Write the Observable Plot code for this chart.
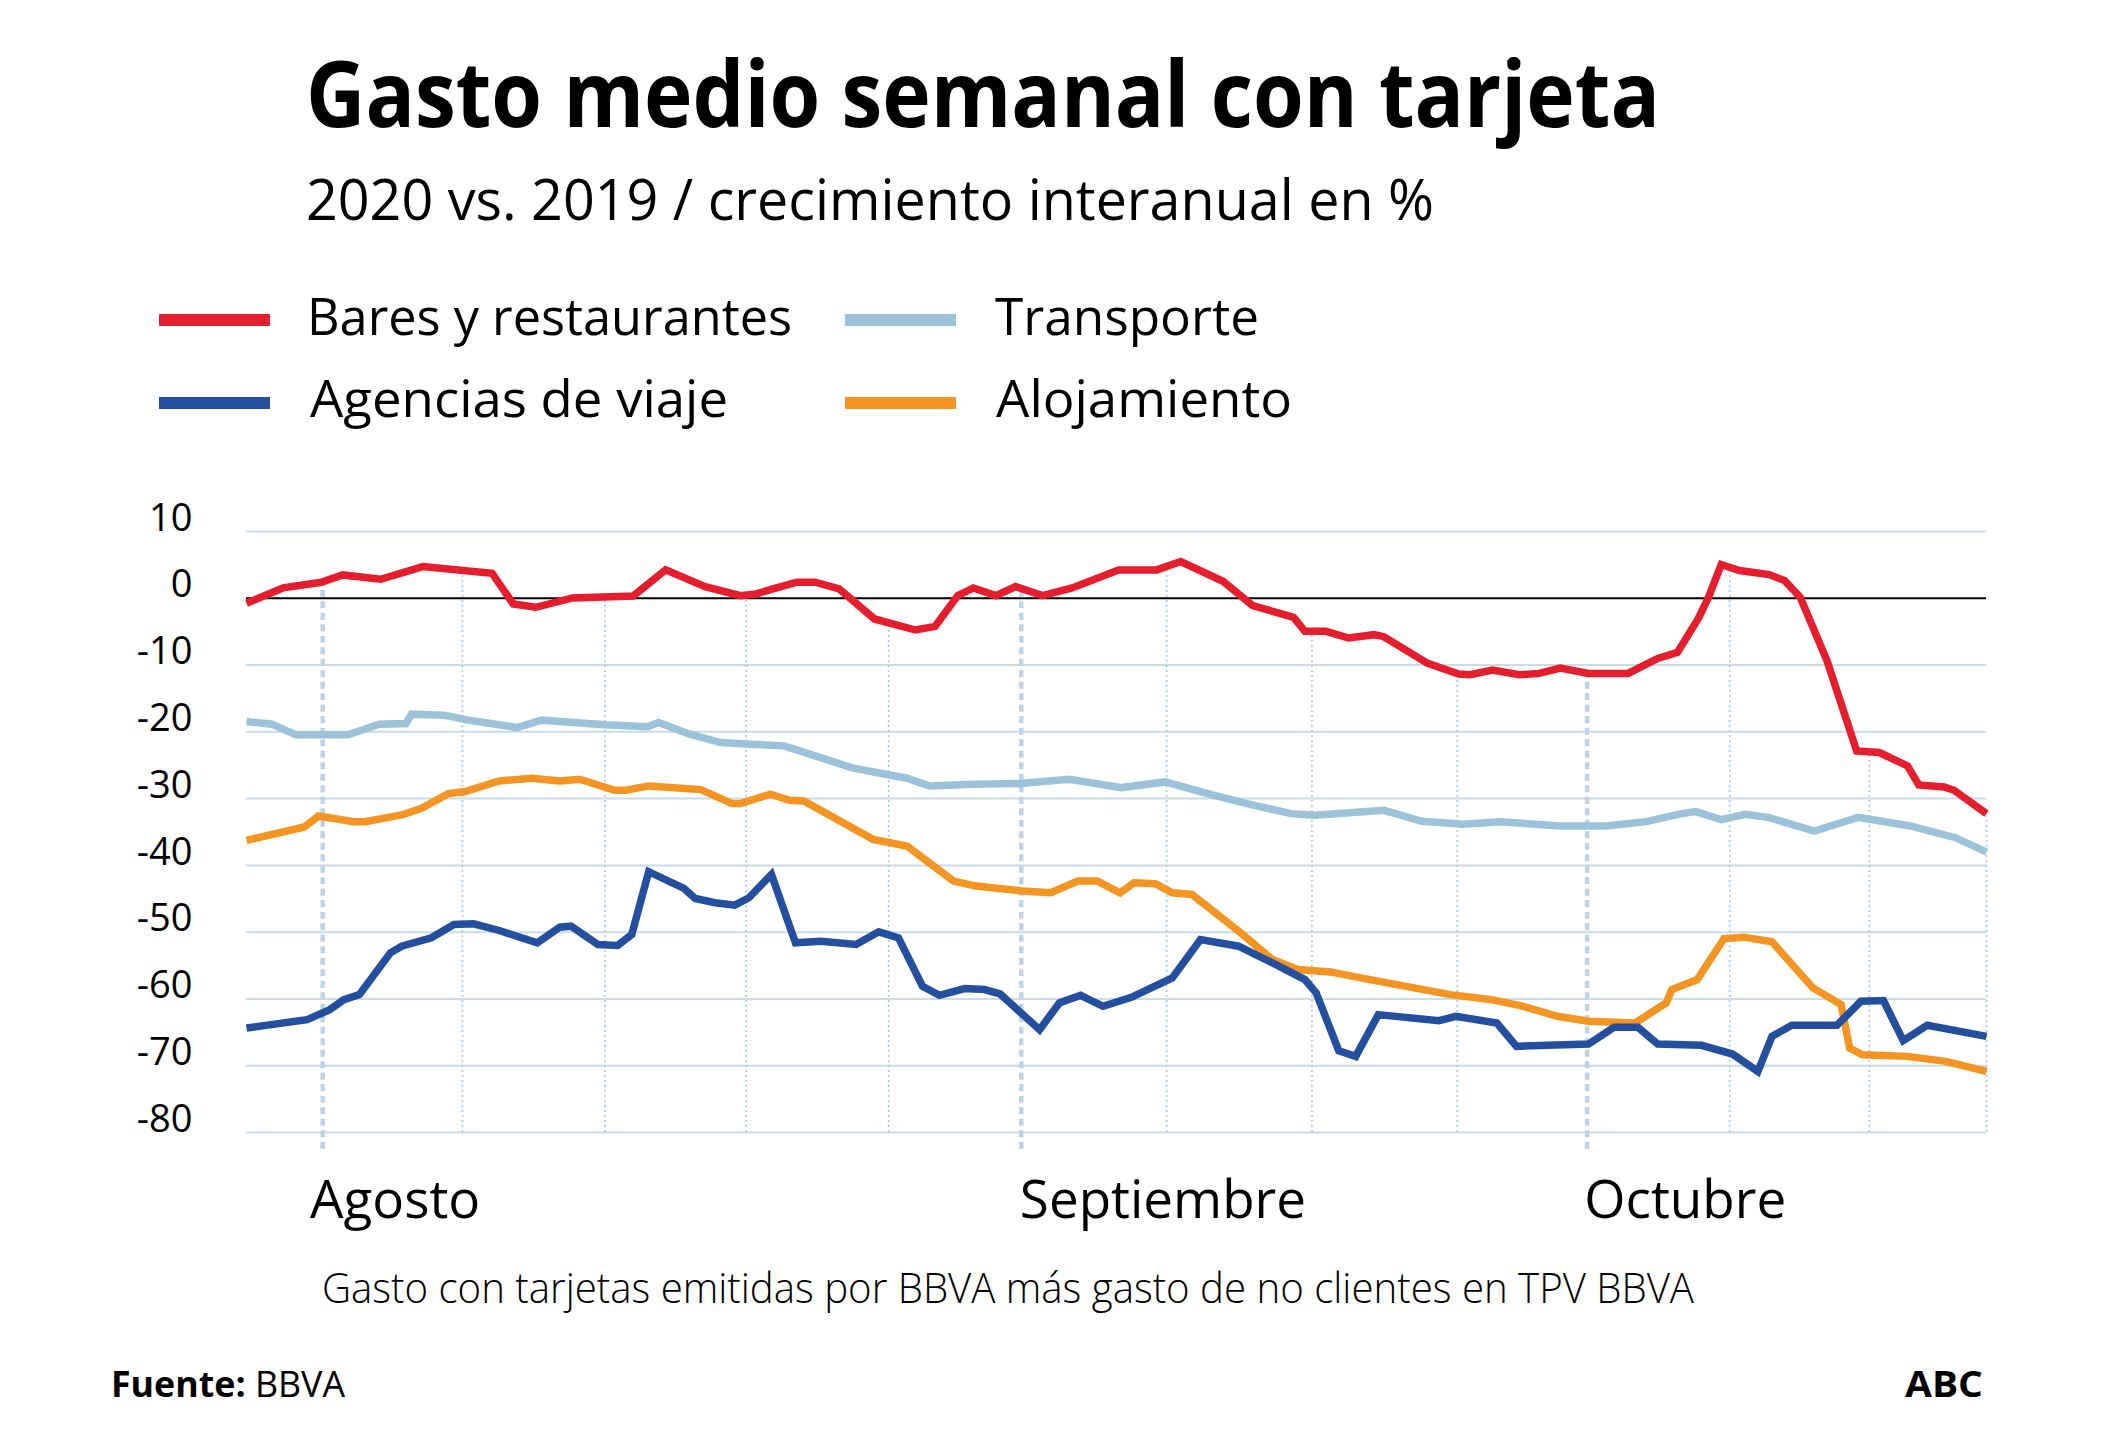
<!DOCTYPE html>
<html><head><meta charset="utf-8">
<script src="https://cdn.jsdelivr.net/npm/d3@7"></script>
<script src="https://cdn.jsdelivr.net/npm/@observablehq/plot@0.6"></script>
<style>
html,body{margin:0;padding:0;background:#fff;}
#page{position:relative;width:2125px;height:1455px;overflow:hidden;font-family:"Open Sans",sans-serif;color:#000;background:#fff;}
.t{position:absolute;white-space:nowrap;line-height:1;transform-origin:0 0;}
.sw{position:absolute;height:12.5px;}
#chart{position:absolute;left:0;top:511px;}
</style></head><body><div id="page">
<div class="t" id="title" data-w="1354" style="left:306px;top:46px;font-size:92px;font-weight:700;">Gasto medio semanal con tarjeta</div>
<div class="t" id="subtitle" data-w="1128" style="left:306px;top:170px;font-size:56px;">2020 vs. 2019 / crecimiento interanual en %</div>
<div id="legend"></div>
<div id="chart"></div>
<div class="t" id="caption" data-w="1372" style="left:322px;top:1266px;font-size:42px;font-weight:300;">Gasto con tarjetas emitidas por BBVA más gasto de no clientes en TPV BBVA</div>
<div class="t" id="fuente" data-w="234" style="left:111px;top:1366px;font-size:36px;"><b>Fuente:</b> BBVA</div>
<div class="t" id="abc" data-w="78" style="right:142px;top:1366px;font-size:36px;font-weight:700;transform-origin:100% 0;">ABC</div>
</div>
<script>
// ---- Data (x = semanas desde el 1 de agosto, y = % interanual) ----
const bares = [[-0.54,-0.75],[-0.28,1.56],[-0.01,2.4],[0.14,3.5],[0.41,2.85],[0.71,4.75],[1.20,3.75],[1.35,-0.85],[1.51,-1.35],[1.77,0.05],[2.20,0.35],[2.43,4.25],[2.71,1.75],[2.96,0.4],[3.07,0.65],[3.19,1.4],[3.36,2.4],[3.49,2.4],[3.66,1.4],[3.91,-3.1],[4.20,-4.75],[4.34,-4.2],[4.50,0.4],[4.61,1.55],[4.77,0.4],[4.91,1.75],[5.10,0.4],[5.31,1.55],[5.64,4.25],[5.91,4.25],[6.08,5.5],[6.38,2.55],[6.59,-1.1],[6.88,-2.85],[6.96,-4.95],[7.11,-4.95],[7.27,-5.95],[7.45,-5.45],[7.52,-5.75],[7.83,-9.75],[8.05,-11.35],[8.13,-11.45],[8.29,-10.75],[8.48,-11.45],[8.62,-11.25],[8.77,-10.45],[8.97,-11.25],[9.25,-11.25],[9.46,-9.0],[9.60,-8.1],[9.75,-2.95],[9.82,0.15],[9.91,5.05],[10.04,4.15],[10.25,3.55],[10.36,2.65],[10.47,0.15],[10.66,-9.35],[10.87,-22.85],[11.03,-23.1],[11.23,-25.1],[11.31,-27.95],[11.49,-28.25],[11.56,-28.75],[11.79,-32.25]];
const transporte = [[-0.54,-18.45],[-0.36,-18.85],[-0.19,-20.45],[0.18,-20.45],[0.40,-18.85],[0.59,-18.75],[0.63,-17.35],[0.86,-17.5],[1.03,-18.25],[1.38,-19.35],[1.55,-18.25],[2.00,-18.95],[2.30,-19.25],[2.38,-18.6],[2.60,-20.35],[2.82,-21.6],[3.03,-21.85],[3.27,-22.1],[3.49,-23.6],[3.76,-25.45],[3.99,-26.35],[4.14,-26.95],[4.30,-28.1],[4.61,-27.85],[4.94,-27.75],[5.29,-27.1],[5.66,-28.35],[5.97,-27.5],[6.29,-29.35],[6.57,-30.85],[6.86,-32.25],[7.03,-32.5],[7.52,-31.75],[7.79,-33.4],[8.08,-33.85],[8.34,-33.45],[8.77,-34.1],[9.09,-34.1],[9.38,-33.45],[9.63,-32.25],[9.73,-31.95],[9.91,-33.15],[10.08,-32.35],[10.25,-32.85],[10.57,-34.85],[10.88,-32.8],[11.25,-34.1],[11.57,-35.85],[11.79,-38.0]];
const alojamiento = [[-0.54,-36.25],[-0.13,-34.25],[-0.03,-32.6],[0.22,-33.45],[0.30,-33.45],[0.56,-32.45],[0.70,-31.45],[0.89,-29.25],[1.01,-28.95],[1.25,-27.35],[1.48,-26.95],[1.68,-27.35],[1.82,-27.1],[2.07,-28.75],[2.15,-28.75],[2.31,-28.1],[2.68,-28.65],[2.90,-30.75],[2.96,-30.75],[3.17,-29.35],[3.31,-30.25],[3.41,-30.35],[3.90,-36.1],[4.14,-37.1],[4.47,-42.35],[4.63,-43.1],[4.96,-43.85],[5.16,-44.1],[5.35,-42.35],[5.49,-42.35],[5.65,-44.1],[5.75,-42.6],[5.90,-42.75],[6.02,-44.1],[6.16,-44.35],[6.49,-49.85],[6.73,-54.1],[6.91,-55.6],[7.14,-55.95],[7.42,-57.1],[7.99,-59.35],[8.28,-60.1],[8.48,-60.95],[8.75,-62.6],[8.97,-63.35],[9.30,-63.6],[9.52,-60.6],[9.56,-58.6],[9.74,-57.1],[9.93,-50.95],[10.07,-50.75],[10.27,-51.45],[10.56,-58.35],[10.76,-60.85],[10.82,-67.35],[10.91,-68.35],[11.23,-68.6],[11.50,-69.35],[11.79,-70.85]];
const agencias = [[-0.54,-64.35],[-0.11,-63.1],[0.05,-61.6],[0.15,-60.1],[0.26,-59.35],[0.48,-53.1],[0.56,-52.1],[0.77,-50.85],[0.93,-48.85],[1.07,-48.75],[1.25,-49.75],[1.52,-51.6],[1.68,-49.25],[1.76,-49.1],[1.95,-51.85],[2.09,-52.0],[2.19,-50.35],[2.31,-40.95],[2.56,-43.45],[2.64,-44.95],[2.78,-45.6],[2.92,-45.95],[3.02,-44.85],[3.18,-41.35],[3.35,-51.6],[3.53,-51.35],[3.78,-51.85],[3.94,-49.95],[4.08,-50.85],[4.25,-58.1],[4.37,-59.45],[4.55,-58.45],[4.69,-58.6],[4.80,-59.25],[5.08,-64.6],[5.22,-60.6],[5.37,-59.45],[5.53,-61.1],[5.73,-59.75],[6.02,-56.85],[6.22,-51.1],[6.49,-52.1],[6.73,-54.6],[6.96,-57.1],[7.04,-59.1],[7.20,-67.75],[7.32,-68.6],[7.48,-62.35],[7.91,-63.25],[8.03,-62.6],[8.32,-63.6],[8.46,-67.1],[8.97,-66.75],[9.15,-64.25],[9.32,-64.25],[9.46,-66.75],[9.77,-66.95],[9.99,-68.25],[10.17,-70.85],[10.27,-65.6],[10.41,-63.95],[10.73,-63.95],[10.90,-60.35],[11.06,-60.25],[11.20,-66.25],[11.37,-63.95],[11.79,-65.6]];

const seriesNames = ["Bares y restaurantes", "Agencias de viaje", "Transporte", "Alojamiento"];
const seriesColors = ["#e41e2c", "#234f9e", "#9cc2d9", "#f39423"];
const seriesData = [bares, agencias, transporte, alojamiento];

const yTicks = [10, 0, -10, -20, -30, -40, -50, -60, -70, -80];
const weekLines = [0.99, 2.0, 3.0, 4.01, 5.98, 7.01, 8.04, 9.97, 10.96, 11.79];
const monthLines = [0, 4.95, 8.96];
const monthLabels = ["Agosto", "Septiembre", "Octubre"];
const monthLabelX = [-0.09, 4.94, 8.94];

// ---- Legend (HTML) ----
const legendPos = [
  {sw:[159,313.5], tx:[307,289], w:485},
  {sw:[159,396.5], tx:[310,371], w:418},
  {sw:[845,313.5], tx:[995,289], w:264},
  {sw:[845,396.5], tx:[996,371], w:296}
];
const legend = document.getElementById("legend");
seriesNames.forEach((n, i) => {
  const p = legendPos[i];
  const s = document.createElement("div");
  s.className = "sw";
  s.style.cssText = `left:${p.sw[0]}px;top:${p.sw[1]}px;width:111px;background:${seriesColors[i]};`;
  legend.appendChild(s);
  const t = document.createElement("div");
  t.className = "t";
  t.dataset.w = p.w;
  t.style.cssText = `left:${p.tx[0]}px;top:${p.tx[1]}px;font-size:52px;`;
  t.textContent = n;
  legend.appendChild(t);
});

// ---- Chart ----
function valueAt(data, x) {
  for (let i = 1; i < data.length; i++) {
    const [x0, y0] = data[i - 1], [x1, y1] = data[i];
    if (x <= x1) return y0 + (y1 - y0) * (x - x0) / (x1 - x0);
  }
  return data[data.length - 1][1];
}
const drawOrder = [2, 3, 1, 0]; // transporte, alojamiento, agencias, bares (encima)
const rows = drawOrder.flatMap(i => seriesData[i].map(([x, y]) => ({serie: seriesNames[i], x, y})));
const allX = rows.map(d => d.x);

const chart = Plot.plot({
  width: 2125, height: 731,
  marginLeft: 246, marginRight: 139, marginTop: 20, marginBottom: 110,
  style: {fontFamily: '"Open Sans", sans-serif', background: "transparent", overflow: "visible", color: "#000"},
  x: {domain: d3.extent(allX), axis: null},
  y: {domain: [-80, 10], axis: null},
  color: {domain: seriesNames, range: seriesColors},
  marks: [
    Plot.ruleY(yTicks.filter(d => d !== 0), {stroke: "#c9dce9", strokeWidth: 2}),
    Plot.ruleX(weekLines, {x: d => d, y1: -80, y2: d => valueAt(bares, d), stroke: "#a9c8dc", strokeWidth: 1.6, strokeDasharray: "2 3"}),
    Plot.ruleX(monthLines, {x: d => d, y1: -82.5, y2: d => valueAt(bares, d), stroke: "#bdd4e4", strokeWidth: 4.5, strokeDasharray: "7 4.5"}),
    Plot.ruleY([0], {stroke: "#000", strokeWidth: 2}),
    Plot.line(rows, {x: "x", y: "y", z: "serie", stroke: "serie", strokeWidth: 7.5, strokeLinejoin: "miter", strokeLinecap: "butt", strokeMiterlimit: 4}),
    Plot.axisY({ticks: yTicks, tickFormat: d => `${d}`, tickSize: 0, tickPadding: 54, fontSize: 38, dy: -13, label: null}),
    Plot.text(monthLabels, {x: (d, i) => monthLabelX[i], y: () => -80, text: d => d, textAnchor: "start", lineAnchor: "top", dy: 48, fontSize: 53, fill: "#000"})
  ]
});
document.getElementById("chart").appendChild(chart);

// ---- Fit text widths ----
document.querySelectorAll(".t[data-w]").forEach(el => {
  const w = el.getBoundingClientRect().width;
  const target = +el.dataset.w;
  if (w > 0) el.style.transform = `scaleX(${target / w})`;
});
</script>
</body></html>
